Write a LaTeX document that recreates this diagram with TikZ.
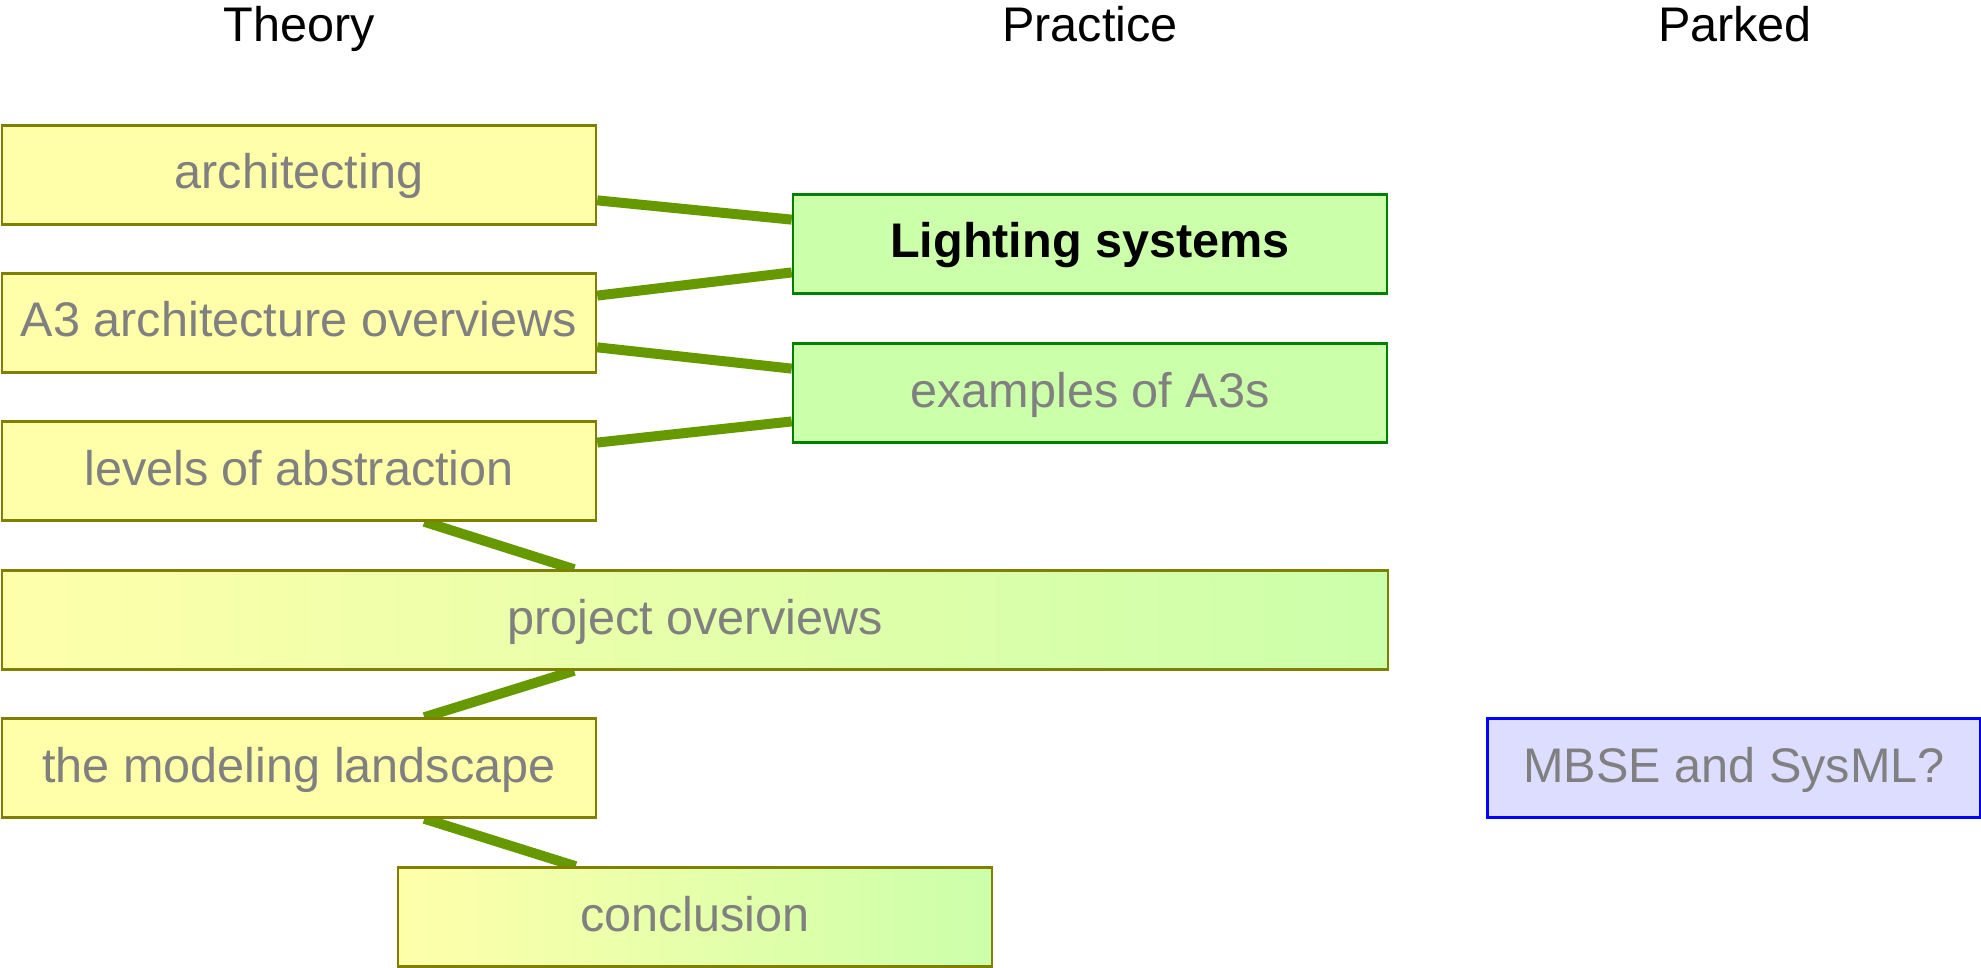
\documentclass[tikz,border=0pt]{standalone}
\usepackage{fontspec}
\setmainfont{Liberation Sans}
\usetikzlibrary{calc,backgrounds}
\definecolor{boxyellow}{HTML}{FFFFAA}
\definecolor{boxgreen}{HTML}{CCFFAA}
\definecolor{boxblue}{HTML}{DDDDFF}
\definecolor{olive}{HTML}{808000}
\definecolor{darkgreen}{HTML}{008000}
\definecolor{linkgreen}{HTML}{669900}
\definecolor{labelgray}{HTML}{808080}
\tikzset{
  topic/.style={draw=olive, line width=2.5pt, rectangle, inner sep=0pt,
    minimum width=594pt, minimum height=99pt, text=labelgray,
    font=\fontsize{48.6}{58}\selectfont, text height=35pt, text depth=7pt},
  theory/.style={topic, fill=boxyellow},
  practice/.style={topic, draw=darkgreen, fill=boxgreen},
  blend/.style={topic, left color=boxyellow, right color=boxgreen},
  parked/.style={topic, draw=blue, fill=boxblue, minimum width=493pt},
  heading/.style={anchor=base, font=\fontsize{48.6}{58}\selectfont, text=black},
  link/.style={draw=linkgreen, line width=10pt}
}
\begin{document}
\begin{tikzpicture}[x=1pt, y=-1pt]
  \useasboundingbox (0,0) rectangle (1981,968);

  % column headings
  \node[heading] (hTheory) at (299,42) {Theory};
  \node[heading] (hPractice) at (1090,42) {Practice};
  \node[heading] (hParked) at (1735,42) {Parked};

  % theory column
  \node[theory] (arch) at (299,175) {architecting};
  \node[theory] (a3) at (299,323) {A3 architecture overviews};
  \node[theory] (levels) at (299,471) {levels of abstraction};
  \node[blend, minimum width=1386pt] (proj) at (695,620) {project overviews};
  \node[theory] (model) at (299,768) {the modeling landscape};
  \node[blend] (concl) at (695,917) {conclusion};

  % practice column
  \node[practice, text=black, font=\fontsize{48.6}{58}\selectfont\bfseries] (light) at (1090,244) {Lighting systems};
  \node[practice] (examples) at (1090,393) {examples of A3s};

  % parked column
  \node[parked] (mbse) at (1734,768) {MBSE and SysML?};

  % links between topics, kept behind the boxes
  \begin{scope}[on background layer]
  \draw[link] ($(arch.north east)!0.75!(arch.south east)$) -- ($(light.north west)!0.26!(light.south west)$);
  \draw[link] ($(a3.north east)!0.23!(a3.south east)$) -- ($(light.north west)!0.78!(light.south west)$);
  \draw[link] ($(a3.north east)!0.74!(a3.south east)$) -- ($(examples.north west)!0.26!(examples.south west)$);
  \draw[link] ($(levels.north east)!0.22!(levels.south east)$) -- ($(examples.north west)!0.78!(examples.south west)$);
  \draw[link] ($(levels.south west)!0.71!(levels.south east)$) -- ($(proj.north west)!0.413!(proj.north east)$);
  \draw[link] ($(proj.south west)!0.413!(proj.south east)$) -- ($(model.north west)!0.71!(model.north east)$);
  \draw[link] ($(model.south west)!0.71!(model.south east)$) -- ($(concl.north west)!0.30!(concl.north east)$);
  \end{scope}
\end{tikzpicture}
\end{document}
